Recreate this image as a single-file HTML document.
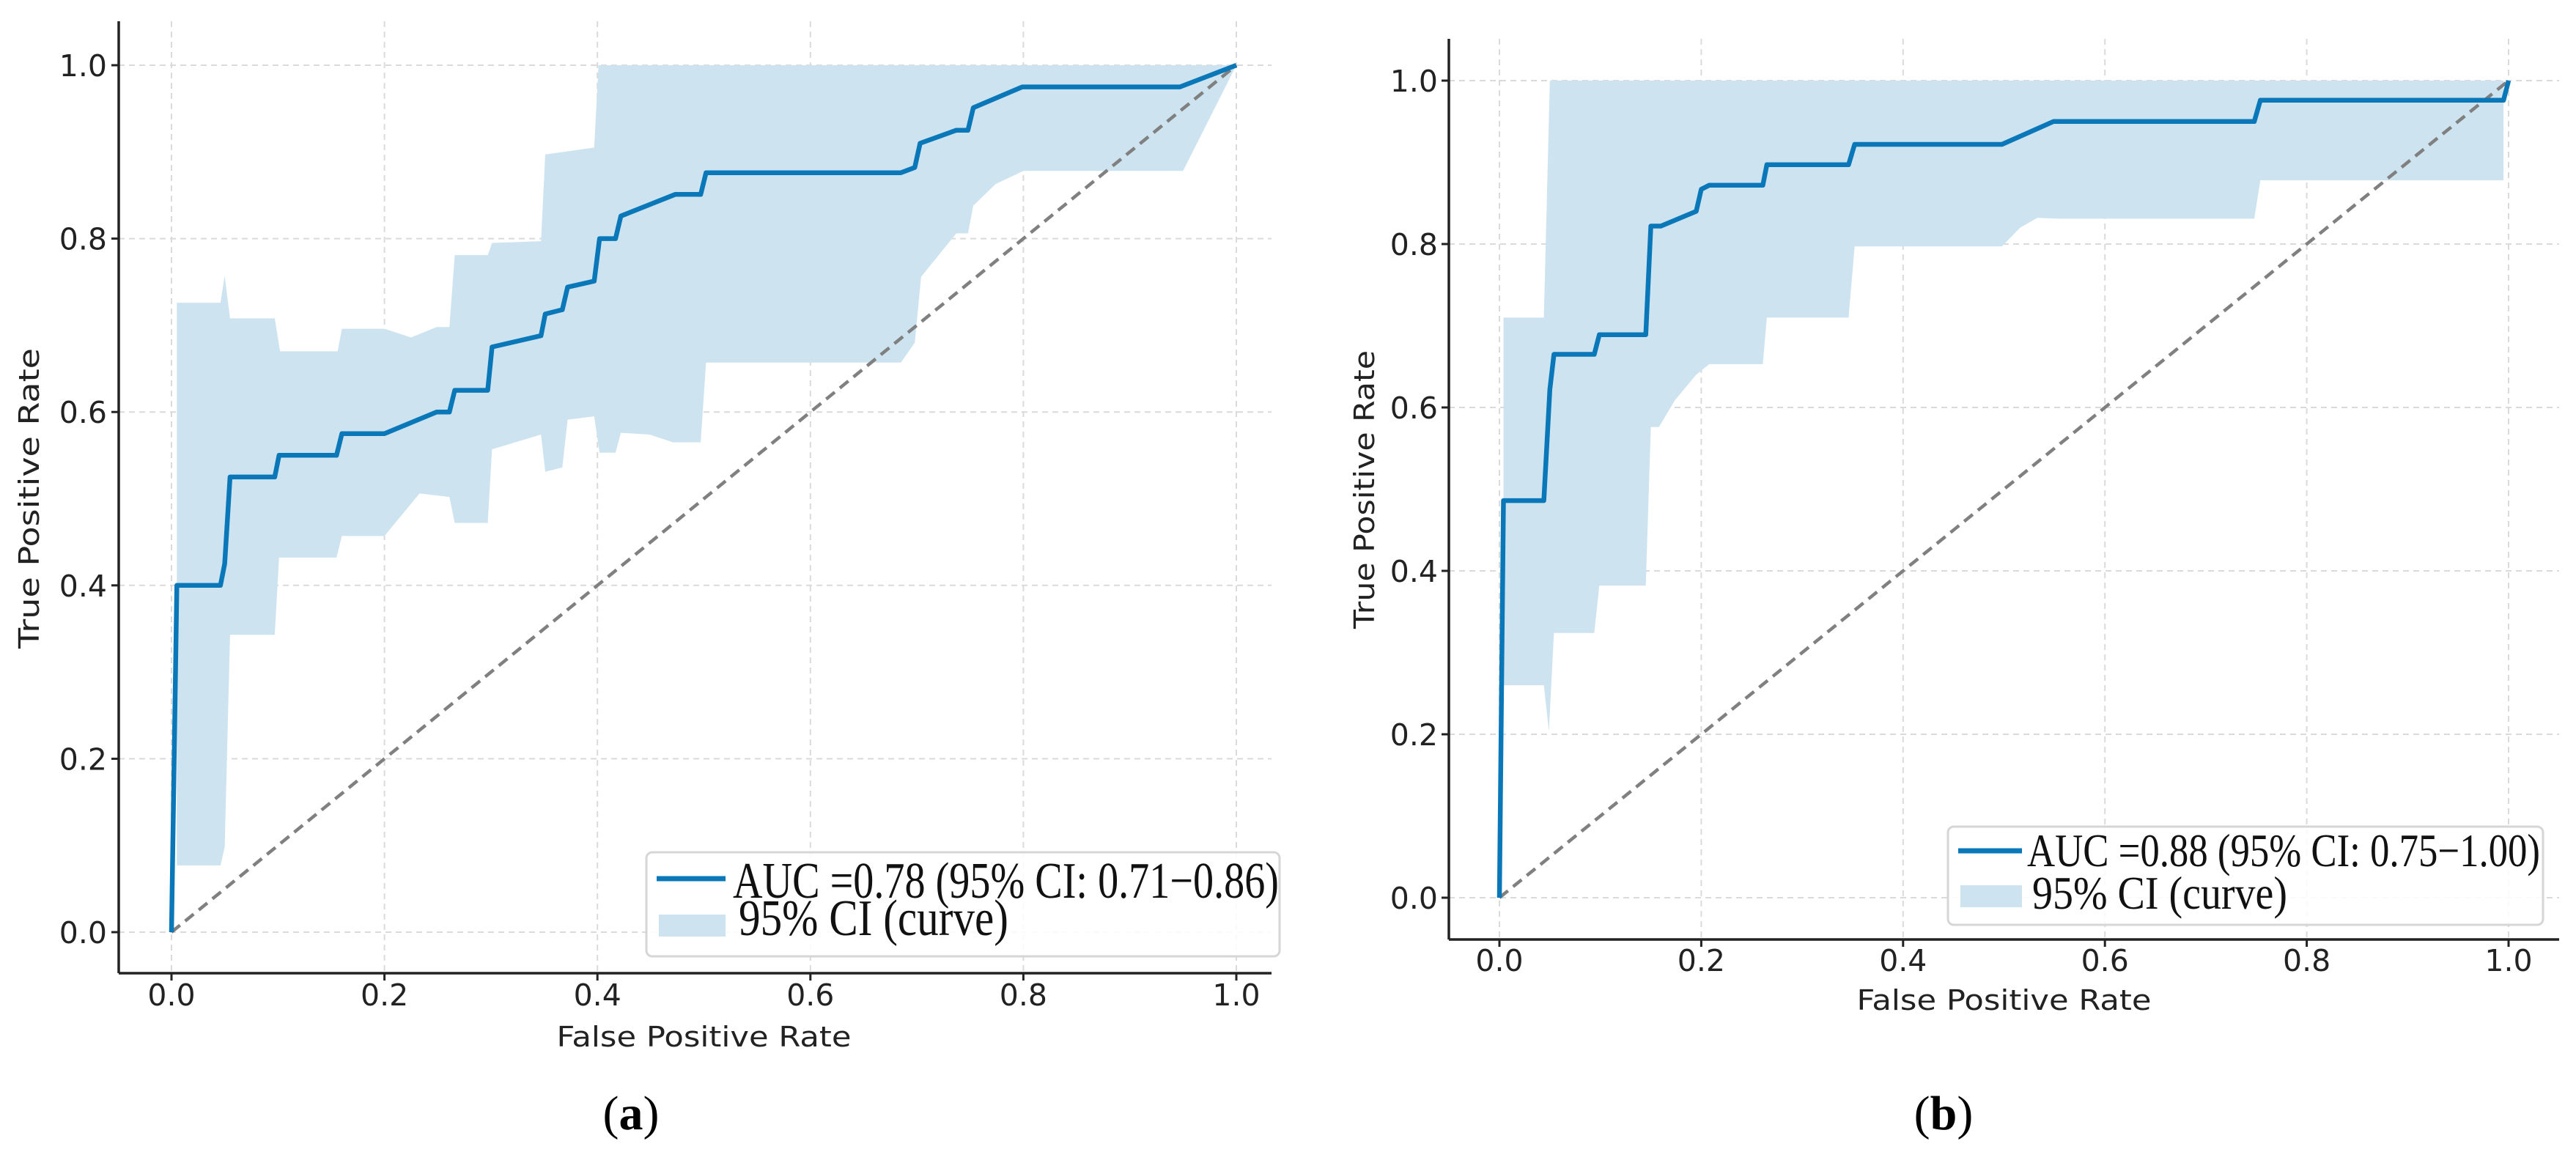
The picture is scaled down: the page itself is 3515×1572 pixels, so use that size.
<!DOCTYPE html>
<html><head><meta charset="utf-8"><style>
html,body{margin:0;padding:0;background:#fff;}
svg{display:block;}
.tick{font-family:"DejaVu Sans","Liberation Sans",sans-serif;font-size:41px;fill:#222;}
.atitle{font-family:"DejaVu Sans","Liberation Sans",sans-serif;font-size:38px;fill:#222;}
.leg{font-family:"Liberation Serif",serif;fill:#111;}
.cap{font-family:"Liberation Serif",serif;font-size:66px;fill:#000;}
</style></head><body>
<svg id="fig" width="3515" height="1572" viewBox="0 0 3515 1572" xmlns="http://www.w3.org/2000/svg">
<rect width="3515" height="1572" fill="#fff"/>
<g id="panelA"></g>
<g id="panelB"></g>
<text class="cap" x="861" y="1541" text-anchor="middle">(<tspan font-weight="bold">a</tspan>)</text>
<text class="cap" x="2652" y="1541" text-anchor="middle">(<tspan font-weight="bold">b</tspan>)</text>
</svg>
<script>
const ticks = [0, 0.2, 0.4, 0.6, 0.8, 1.0];
const tickLabels = ["0.0", "0.2", "0.4", "0.6", "0.8", "1.0"];

const rocA_fpr = [0,0.005,0.046,0.05,0.055,0.097,0.101,0.155,0.16,0.2,0.249,0.261,0.266,0.297,0.301,0.347,0.351,0.367,0.372,0.397,0.402,0.417,0.422,0.473,0.497,0.502,0.685,0.698,0.703,0.737,0.748,0.753,0.799,0.947,1];
const rocA_tpr = [0,0.40,0.40,0.425,0.525,0.525,0.55,0.55,0.575,0.575,0.60,0.60,0.625,0.625,0.675,0.688,0.713,0.718,0.744,0.751,0.80,0.80,0.826,0.851,0.851,0.876,0.876,0.882,0.910,0.925,0.925,0.951,0.975,0.975,1];
const ciUpA_fpr = [0.005,0.046,0.05,0.055,0.097,0.102,0.156,0.16,0.2,0.225,0.249,0.261,0.266,0.297,0.301,0.347,0.351,0.397,0.401,1];
const ciUpA_tpr = [0.726,0.726,0.757,0.708,0.708,0.67,0.67,0.696,0.696,0.686,0.698,0.698,0.781,0.781,0.795,0.797,0.897,0.905,1,1];
const ciLoA_fpr = [0.005,0.046,0.05,0.055,0.097,0.101,0.155,0.16,0.2,0.233,0.261,0.266,0.297,0.301,0.347,0.351,0.367,0.372,0.397,0.402,0.417,0.422,0.449,0.471,0.497,0.502,0.685,0.698,0.704,0.737,0.748,0.753,0.774,0.8,0.95,1];
const ciLoA_tpr = [0.077,0.077,0.098,0.343,0.343,0.432,0.432,0.457,0.457,0.506,0.502,0.472,0.472,0.557,0.574,0.531,0.536,0.591,0.595,0.553,0.553,0.576,0.574,0.565,0.565,0.657,0.657,0.68,0.756,0.806,0.806,0.838,0.863,0.878,0.878,1];

const rocB_fpr = [0,0.004,0.044,0.05,0.054,0.094,0.099,0.145,0.15,0.16,0.195,0.2,0.208,0.261,0.265,0.346,0.352,0.498,0.549,0.748,0.754,0.995,1];
const rocB_tpr = [0,0.486,0.486,0.622,0.665,0.665,0.689,0.689,0.822,0.822,0.84,0.867,0.872,0.872,0.897,0.897,0.922,0.922,0.95,0.95,0.976,0.976,1];
const ciUpB_fpr = [0.004,0.044,0.05,1];
const ciUpB_tpr = [0.71,0.71,1,1];
const ciLoB_fpr = [0.004,0.044,0.049,0.054,0.094,0.099,0.145,0.15,0.158,0.174,0.195,0.208,0.261,0.265,0.346,0.352,0.498,0.516,0.533,0.553,0.748,0.754,0.995,0.995,1];
const ciLoB_tpr = [0.26,0.26,0.204,0.324,0.324,0.382,0.382,0.576,0.576,0.609,0.64,0.653,0.653,0.71,0.71,0.797,0.797,0.82,0.832,0.831,0.831,0.878,0.878,1,1];

const NS = "http://www.w3.org/2000/svg";
function mk(tag, attrs, parent){
  const e = document.createElementNS(NS, tag);
  for (const k in attrs) e.setAttribute(k, attrs[k]);
  parent.appendChild(e);
  return e;
}

function drawPanel(g, cfg, rf, rt, uf, ut, lf, lt, legText){
  const sx = v => cfg.x0 + v * (cfg.x1 - cfg.x0);
  const sy = v => cfg.y0 + v * (cfg.y1 - cfg.y0);
  ticks.forEach((t, i) => {
    const gv = mk('line', {x1:sx(t), x2:sx(t), y1:cfg.top, y2:cfg.bottom, stroke:'#dadada', 'stroke-width':2, 'stroke-dasharray':'8,6'}, g);
    
    
    const gh = mk('line', {x1:cfg.left, x2:cfg.right, y1:sy(t), y2:sy(t), stroke:'#dadada', 'stroke-width':2, 'stroke-dasharray':'8,6'}, g);
    
    
  });
  let d = '';
  uf.forEach((f, i) => { d += (i ? 'L' : 'M') + sx(f).toFixed(1) + ',' + sy(ut[i]).toFixed(1); });
  for (let i = lf.length - 1; i >= 0; i--) d += 'L' + sx(lf[i]).toFixed(1) + ',' + sy(lt[i]).toFixed(1);
  d += 'Z';
  const band = mk('path', {d:d, fill:'#cde4f0', stroke:'none'}, g);
  
  
  const diag = mk('line', {x1:sx(0), y1:sy(0), x2:sx(1), y2:sy(1), stroke:'#808080', 'stroke-width':4.5, 'stroke-dasharray':'15,9'}, g);
  
  
  let pd = '';
  rf.forEach((f, i) => { pd += (i ? 'L' : 'M') + sx(f).toFixed(1) + ',' + sy(rt[i]).toFixed(1); });
  const roc = mk('path', {d:pd, fill:'none', stroke:'#0a78b8', 'stroke-width':6.5, 'stroke-linejoin':'round'}, g);
  
  
  const ys = mk('line', {x1:cfg.left, x2:cfg.left, y1:cfg.top, y2:cfg.bottom, stroke:'#222', 'stroke-width':3.5}, g);
  
  
  const xs = mk('line', {x1:cfg.left, x2:cfg.right, y1:cfg.bottom, y2:cfg.bottom, stroke:'#222', 'stroke-width':3.5}, g);
  
  
  ticks.forEach((t, i) => {
    mk('line', {x1:sx(t), x2:sx(t), y1:cfg.bottom, y2:cfg.bottom + 10, stroke:'#222', 'stroke-width':3}, g);
    mk('line', {x1:cfg.left - 10, x2:cfg.left, y1:sy(t), y2:sy(t), stroke:'#222', 'stroke-width':3}, g);
    const xl = mk('text', {x:sx(t), y:cfg.xLabY, 'text-anchor':'middle', class:'tick'}, g);
    xl.textContent = tickLabels[i];
    
    
    const yl = mk('text', {x:cfg.yLabX, y:sy(t) + 15, 'text-anchor':'end', class:'tick'}, g);
    yl.textContent = tickLabels[i];
    
    
  });
  const xt = mk('text', {x:(sx(0)+sx(1))/2, y:cfg.xTitleY, 'text-anchor':'middle', class:'atitle', textLength:402, lengthAdjust:'spacingAndGlyphs'}, g);
  xt.textContent = 'False Positive Rate';
  
  
  const yt = mk('text', {x:0, y:0, 'text-anchor':'middle', class:'atitle', transform:'translate(' + (cfg.yTitleX + 13) + ',' + cfg.yTitleY + ') rotate(-90)', textLength:cfg.yTitleW, lengthAdjust:'spacingAndGlyphs'}, g);
  yt.textContent = 'True Positive Rate';
  
  
  const L = cfg.leg;
  const lg = mk('g', {}, g);
  
  
  mk('rect', {x:L.x, y:L.y, width:L.w, height:L.h, rx:8, fill:'#fff', 'fill-opacity':0.85, stroke:'#d6d6d6', 'stroke-width':3}, lg);
  mk('line', {x1:L.lx1, x2:L.lx2, y1:L.ly, y2:L.ly, stroke:'#0a78b8', 'stroke-width':7}, lg);
  mk('rect', {x:L.lx1 + 3, y:L.py, width:L.lx2 - L.lx1 - 3, height:L.ph, fill:'#cde4f0'}, lg);
  const t1 = mk('text', {x:L.tx1, y:L.t1y, class:'leg', 'font-size':L.fs, textLength:L.t1w, lengthAdjust:'spacingAndGlyphs'}, lg);
  t1.textContent = legText;
  
  
  const t2 = mk('text', {x:L.tx2, y:L.t2y, class:'leg', 'font-size':L.fs, textLength:L.t2w, lengthAdjust:'spacingAndGlyphs'}, lg);
  t2.textContent = '95% CI (curve)';
  
  
}

drawPanel(document.getElementById('panelA'),
  {x0:234, x1:1687, y0:1272, y1:89, left:162, right:1735, top:29, bottom:1328,
   xLabY:1372, xTitleY:1428, yLabX:146, yTitleX:40, yTitleY:680, yTitleW:410,
   leg:{x:882, y:1163, w:864, h:142, lx1:896, lx2:990, ly:1199, py:1248, ph:30,
        tx1:1000, t1y:1225, t1w:745, tx2:1008, t2y:1276, t2w:368, fs:70}},
  rocA_fpr, rocA_tpr, ciUpA_fpr, ciUpA_tpr, ciLoA_fpr, ciLoA_tpr,
  'AUC =0.78 (95% CI: 0.71\u22120.86)');

drawPanel(document.getElementById('panelB'),
  {x0:2046, x1:3423, y0:1225, y1:110, left:1977, right:3492, top:53, bottom:1282,
   xLabY:1325, xTitleY:1378, yLabX:1962, yTitleX:1862, yTitleY:668, yTitleW:380,
   leg:{x:2658, y:1128, w:812, h:134, lx1:2672, lx2:2759, ly:1161, py:1208, ph:30,
        tx1:2766, t1y:1182, t1w:700, tx2:2773, t2y:1240, t2w:348, fs:64}},
  rocB_fpr, rocB_tpr, ciUpB_fpr, ciUpB_tpr, ciLoB_fpr, ciLoB_tpr,
  'AUC =0.88 (95% CI: 0.75\u22121.00)');
</script>
</body></html>
